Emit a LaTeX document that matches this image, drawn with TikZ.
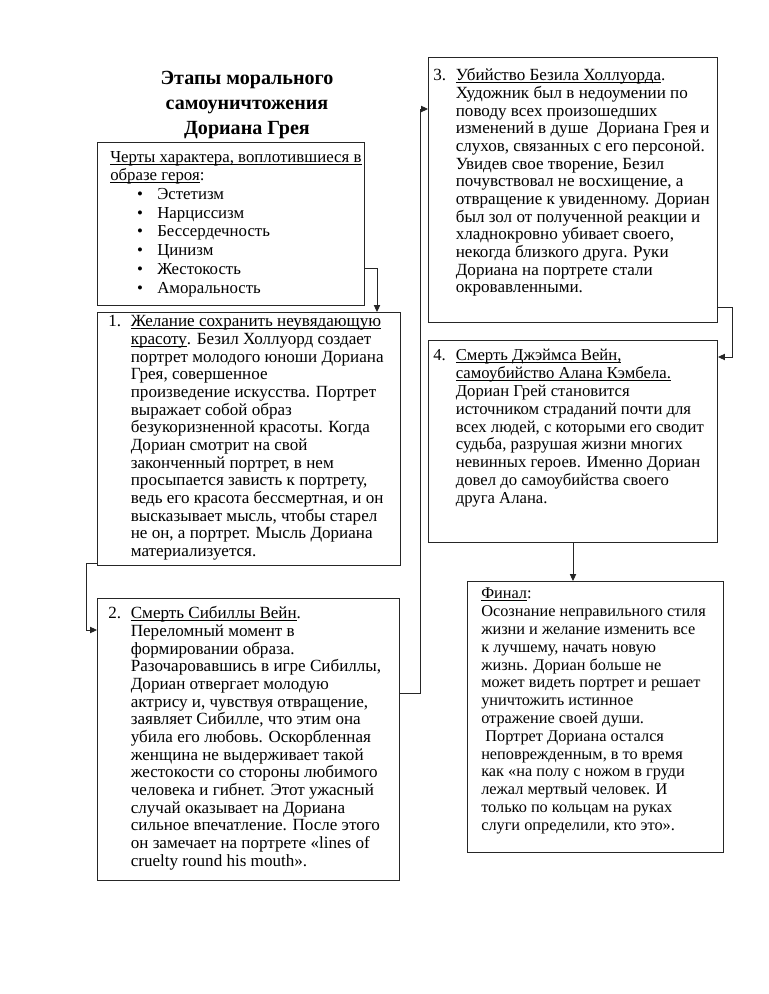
\documentclass[tikz,border=0pt]{standalone}
\usepackage{fontspec}
\setmainfont{Liberation Serif}
\usetikzlibrary{arrows.meta,calc}
\newsavebox\ulbox
\newcommand{\uln}[1]{\sbox\ulbox{#1}\rlap{\rule[-1.9pt]{\wd\ulbox}{0.55pt}}\usebox\ulbox}
\newcommand{\bul}[1]{\hspace*{21.5pt}\makebox[16pt][l]{•}#1}
\begin{document}
\begin{tikzpicture}[x=0.7969pt,y=-0.7969pt,
  box/.style={draw=black!85,line width=0.8pt,rectangle,inner sep=0pt,anchor=north west},
  txt/.style={inner sep=0pt,anchor=north west,font=\fontsize{13.6}{14.1}\selectfont,align=left},
  ttl/.style={inner sep=0pt,anchor=north,font=\fontsize{16}{20}\selectfont\bfseries,align=center},
  conn/.style={draw=black!85,line width=0.7pt,-{Triangle[length=5.5pt,width=5pt]}}]
\useasboundingbox (0,0) rectangle (768,994);

\node[ttl] (title) at (247,71) {Этапы морального\\самоуничтожения\\Дориана Грея};

% boxes
\node[box,minimum width=212.8pt,minimum height=129.9pt] (A) at (97,142) {};
\node[box,minimum width=241.5pt,minimum height=201.6pt] (B1) at (97,312) {};
\node[box,minimum width=240.7pt,minimum height=224.7pt] (B2) at (97,598) {};
\node[box,minimum width=230.3pt,minimum height=211.2pt] (B3) at (428,57) {};
\node[box,minimum width=230.3pt,minimum height=161.0pt] (B4) at (428,340) {};
\node[box,minimum width=204.0pt,minimum height=216.0pt] (F) at (467,581) {};

% texts
\node[txt,font=\fontsize{13.4}{14.1}\selectfont] (At) at (110,150) {\begin{tabular}{@{}l@{}}
\uln{Черты характера, воплотившиеся в}\\
\uln{образе героя}:\\[1.2pt]
\bul{Эстетизм}\\[0.8pt]
\bul{Нарциссизм}\\[0.8pt]
\bul{Бессердечность}\\[0.8pt]
\bul{Цинизм}\\[0.8pt]
\bul{Жестокость}\\[0.8pt]
\bul{Аморальность}
\end{tabular}};

\node[txt] (B1t) at (108,314) {\begin{tabular}{@{}p{18pt}@{}l@{}}
1. & \uln{Желание сохранить неувядающую}\\
 & \uln{красоту}. Безил Холлуорд создает\\
 & портрет молодого юноши Дориана\\
 & Грея, совершенное\\
 & произведение искусства. Портрет\\
 & выражает собой образ\\
 & безукоризненной красоты. Когда\\
 & Дориан смотрит на свой\\
 & законченный портрет, в нем\\
 & просыпается зависть к портрету,\\
 & ведь его красота бессмертная, и он\\
 & высказывает мысль, чтобы старел\\
 & не он, а портрет. Мысль Дориана\\
 & материализуется.
\end{tabular}};

\node[txt] (B2t) at (108,606) {\begin{tabular}{@{}p{18pt}@{}l@{}}
2. & \uln{Смерть Сибиллы Вейн}.\\
 & Переломный момент в\\
 & формировании образа.\\
 & Разочаровавшись в игре Сибиллы,\\
 & Дориан отвергает молодую\\
 & актрису и, чувствуя отвращение,\\
 & заявляет Сибилле, что этим она\\
 & убила его любовь. Оскорбленная\\
 & женщина не выдерживает такой\\
 & жестокости со стороны любимого\\
 & человека и гибнет. Этот ужасный\\
 & случай оказывает на Дориана\\
 & сильное впечатление. После этого\\
 & он замечает на портрете «lines of\\
 & cruelty round his mouth».
\end{tabular}};

\node[txt] (B3t) at (433,68) {\begin{tabular}{@{}p{18pt}@{}l@{}}
3. & \uln{Убийство Безила Холлуорда}.\\
 & Художник был в недоумении по\\
 & поводу всех произошедших\\
 & изменений в душе\ \ Дориана Грея и\\
 & слухов, связанных с его персоной.\\
 & Увидев свое творение, Безил\\
 & почувствовал не восхищение, а\\
 & отвращение к увиденному. Дориан\\
 & был зол от полученной реакции и\\
 & хладнокровно убивает своего,\\
 & некогда близкого друга. Руки\\
 & Дориана на портрете стали\\
 & окровавленными.
\end{tabular}};

\node[txt,font=\fontsize{13.3}{14.2}\selectfont] (B4t) at (433,348) {\begin{tabular}{@{}p{18pt}@{}l@{}}
4. & \uln{Смерть Джэймса Вейн,}\\
 & \uln{самоубийство Алана Кэмбела.}\\
 & Дориан Грей становится\\
 & источником страданий почти для\\
 & всех людей, с которыми его сводит\\
 & судьба, разрушая жизни многих\\
 & невинных героев. Именно Дориан\\
 & довел до самоубийства своего\\
 & друга Алана.
\end{tabular}};

\node[txt,font=\fontsize{13}{14.2}\selectfont] (Ft) at (481,586) {\begin{tabular}{@{}l@{}}
\uln{Финал}:\\
Осознание неправильного стиля\\
жизни и желание изменить все\\
к лучшему, начать новую\\
жизнь. Дориан больше не\\
может видеть портрет и решает\\
уничтожить истинное\\
отражение своей души.\\
\ Портрет Дориана остался\\
неповрежденным, в то время\\
как «на полу с ножом в груди\\
лежал мертвый человек. И\\
только по кольцам на руках\\
слуги определили, кто это».
\end{tabular}};

% connectors
\draw[conn] ($(A.north east)+(0,126)$) -| ($(B1.north west)+(280,0)$);
\draw[conn] ($(B1.south west)+(0,-3)$) -- ++(-11,0) |- ($(B2.north west)+(0,32)$);
\draw[conn] ($(B2.north east)+(0,95)$) -- ++(20,0) |- ($(B3.north west)+(0,52)$);
\draw[conn] ($(B3.south east)+(0,-16)$) -- ++(14,0) |- ($(B4.north east)+(0,17)$);
\draw[conn] (B4.south) -- (B4.south |- F.north);
\end{tikzpicture}
\end{document}
